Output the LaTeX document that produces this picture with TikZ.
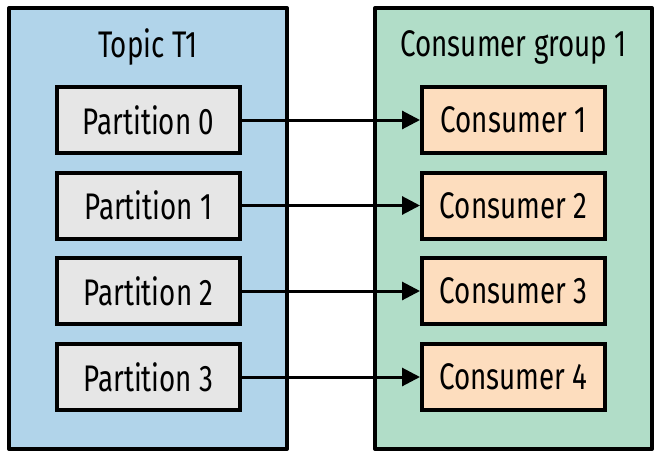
\documentclass[tikz,border=0pt]{standalone}
\usepackage{fontspec}
\setmainfont[FakeStretch=0.75]{Fira Sans}
\usetikzlibrary{arrows.meta}
\definecolor{topicblue}{HTML}{B1D4EA}
\definecolor{groupgreen}{HTML}{B1DDC8}
\definecolor{partgray}{HTML}{E6E6E6}
\definecolor{consorange}{HTML}{FDDDBE}
\begin{document}
\begin{tikzpicture}[x=1pt,y=-1pt,
  container/.style={draw=black,line width=4pt,line join=round},
  partbox/.style={draw=black,line width=4pt,fill=partgray,minimum width=183pt,minimum height=66pt,inner sep=0pt,font=\fontsize{37}{42}\selectfont},
  consbox/.style={draw=black,line width=4pt,fill=consorange,minimum width=183pt,minimum height=66pt,inner sep=0pt,font=\fontsize{37}{42}\selectfont},
  titletext/.style={inner sep=0pt,font=\fontsize{37}{42}\selectfont},
  link/.style={line width=3pt,-{Triangle[length=18pt,width=18pt]}}]
\useasboundingbox (0,0) rectangle (668,460);
\fill[white] (0,0) rectangle (668,460);
\node[container,fill=topicblue,minimum width=278pt,minimum height=441pt,inner sep=0pt] (topic) at (148,228.5) {};
\node[container,fill=groupgreen,minimum width=277pt,minimum height=441pt,inner sep=0pt] (group) at (513.5,228.5) {};
\node[titletext] (tt) at (148,47) {Topic T1};
\node[titletext] (gt) at (513.5,47) {Consumer group 1};
\node[partbox] (p0) at (148.5,120) {Partition 0};
\node[partbox] (p1) at (148.5,205.5) {Partition 1};
\node[partbox] (p2) at (148.5,291) {Partition 2};
\node[partbox] (p3) at (148.5,377) {Partition 3};
\node[consbox] (c0) at (513.5,120) {Consumer 1};
\node[consbox] (c1) at (513.5,205.5) {Consumer 2};
\node[consbox] (c2) at (513.5,291) {Consumer 3};
\node[consbox] (c3) at (513.5,377) {Consumer 4};
\draw[link] (p0) -- (c0);
\draw[link] (p1) -- (c1);
\draw[link] (p2) -- (c2);
\draw[link] (p3) -- (c3);
\end{tikzpicture}
\end{document}
